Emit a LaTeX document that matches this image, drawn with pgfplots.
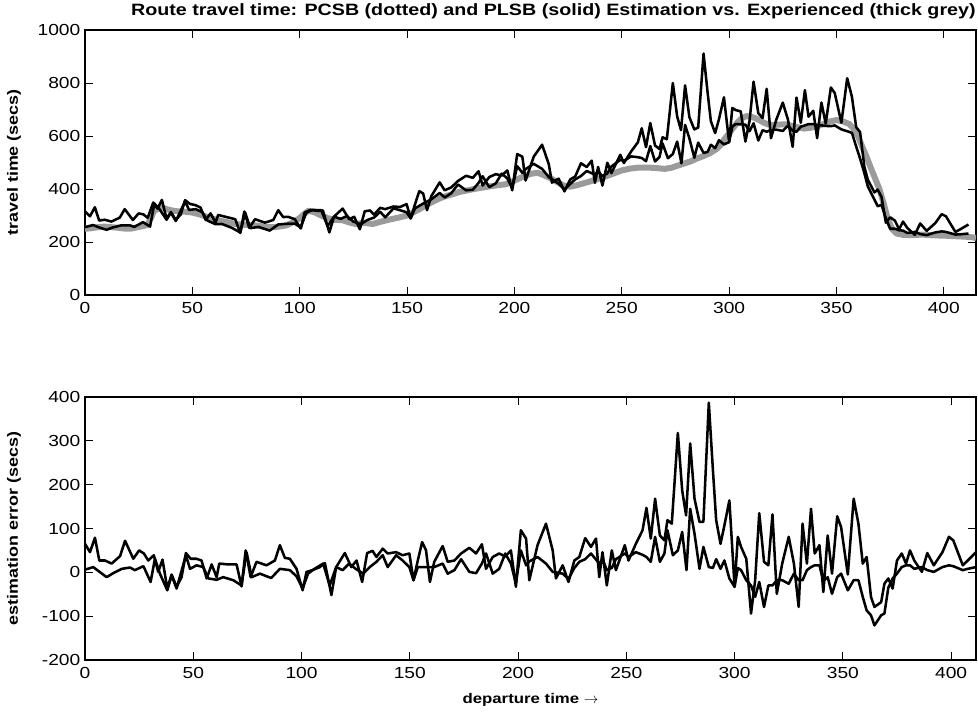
\documentclass[border=0pt]{standalone}
\usepackage{fontspec}
\setmainfont{Liberation Sans}[FakeStretch=1.2]
\usepackage{pgfplots}
\pgfplotsset{compat=1.18}
\definecolor{expgrey}{RGB}{155,155,155}

\pgfplotstableread{
x y
0 250
3 252
6 256
9 258
12 256
15 254
18 251
21 250
24 255
27 260
29 264
31 295
32 315
34 326
36 330
38 324
41 318
44 315
47 314
50 311
53 305
56 297
59 289
62 282
65 277
68 271
71 267
74 265
77 264
80 262
84 257
88 256
91 259
94 263
97 275
100 290
102 305
104 318
107 312
110 300
113 290
116 284
120 282
123 274
126 268
130 272
134 268
138 277
142 285
146 292
150 300
153 312
156 325
159 340
162 352
165 364
168 373
171 380
174 388
177 393
180 398
184 404
188 409
192 414
196 418
199 428
202 439
205 450
208 458
211 461
214 451
217 440
220 426
223 413
226 409
229 414
232 421
235 428
238 436
241 443
244 452
247 461
250 470
254 477
258 481
262 481
266 479
270 476
273 480
276 488
279 496
282 504
285 515
288 524
291 535
294 550
296 565
298 590
300 610
302 632
304 652
306 667
308 675
310 673
312 668
314 660
316 651
318 644
320 641
323 643
326 644
329 639
332 633
335 628
338 631
341 637
344 645
347 655
350 660
353 655
356 645
358 628
360 600
362 560
364 522
366 480
368 440
370 400
372 345
374 285
376 248
378 232
381 227
385 226
390 228
395 225
400 224
405 222
410 220
413 218
415 215
}\experienced

\pgfplotstableread{
x y
0 315
2.3 297
4.6 331
6.6 281
9.2 284
12.3 277
16.2 292
18.5 324
22.3 283
25 308
27.2 304
29.2 291
31.8 349
33.8 326
35.8 359
38 288
40 313
42.3 283
44.6 304
46.6 358
48.8 344
51.5 339
53.8 330
56.2 283
58.5 308
60.8 273
62 302
66 294
70 286
72.3 234
74.2 315
76.5 253
79.2 286
83.8 273
87.7 283
90 320
92.3 294
94.6 295
97.7 286
100.5 251
102.3 311
105 321
108.5 317
110.8 319
113.8 236
116 296
120 326
123 286
125.4 295
128 248
130.3 316
132.8 319
134.6 303
137.5 329
139.8 324
143.7 334
146.7 332
149.8 343
151.7 289
153.7 342
155.7 392
157.5 383
159.3 320
161.3 373
165.2 425
167.5 395
170.6 406
173.7 430
177.5 450
180.6 442
183.3 467
185.2 413
188.3 445
191.3 456
194.1 451
196.7 470
199 395
201.3 532
203.7 522
205.2 432
209 522
212.9 567
216 494
217.5 424
220.6 439
223.3 391
226 436
228.3 447
231 497
233.7 483
236 507
237.5 423
239 483
241 413
243.3 499
245.2 460
249.3 529
251 498
254.4 542
257.5 576
259.3 629
261.3 558
263.3 649
265.5 564
267.6 551
269 595
271 588
273.8 800
275.8 674
277.6 622
279.5 791
281.5 671
283.8 625
285.6 632
288.1 911
290 763
291.5 656
293.5 611
295.3 664
297.6 746
300 577
301.5 706
303 698
305.4 693
307.6 579
309.5 656
311.4 805
313.6 686
315.6 668
317.5 778
319.5 592
322 662
325 726
327.4 662
329.6 559
331.4 745
333.4 650
335.3 773
337 673
339.2 695
341 592
343 726
345 647
347.4 783
349.2 762
352.3 650
355 818
357.2 748
359.2 633
361 615
363 484
364.6 435
367.7 387
369.2 398
371 370
373 273
375 293
377.2 281
379.2 248
381 277
383 253
386.5 227
389 270
392 242
396 271
399 305
401 297
405.4 238
407.7 248
411.5 266
}\pcsbtop

\pgfplotstableread{
x y
0 256
3.8 264
6.2 256
10 246
13 255
17 263
20.8 263
23 257
27 275
30.3 258
32.3 345
34.6 325
38 284
40 311
42.3 279
46.6 353
48.5 321
51.5 324
54.6 313
57 281
60.8 267
63.8 268
68.5 253
72.3 236
74.6 311
77 252
80.8 257
86 243
90 266
94.6 269
97.7 269
100.5 255
103 310
106 321
110 320
113 260
116 296
119 287
122 298
125 277
128.5 267
131.5 283
134.6 292
137.5 314
139.8 293
143.7 327
146.7 320
149.8 312
151.7 289
153.7 327
157.5 345
161.3 361
165.2 385
167.5 368
170.6 384
173.7 417
177.5 395
180.6 397
183.3 423
185.2 448
188.3 407
191.3 421
194.1 458
196.7 440
199 403
201.3 486
203.7 461
205.2 475
209 495
212.9 476
216 445
220.6 420
223.3 398
226 419
228.3 436
231 449
233.7 468
237.5 454
239 467
241 448
243.3 459
245.2 485
249.3 510
251 506
254.4 523
257.5 520
259.3 517
261.3 505
263.3 562
265.5 504
267.6 521
269 572
271.5 516
273.8 532
275.8 579
277.8 497
279.5 642
281.5 591
283.8 518
285.6 575
288.1 536
290 540
291.5 567
293.5 554
295.3 584
297.6 568
300 577
301.5 635
303 645
305.4 644
307.6 643
309.5 618
311.4 648
313.6 583
315.6 622
317.5 616
319.5 623
322 624
325 619
327.4 639
329.6 620
331.4 616
333.4 635
335.3 640
337 645
339.2 645
341 641
343 640
345 638
347.4 637
349.2 640
352.3 625
355 618
357.2 612
359.2 560
361 515
363 460
364.6 410
367.7 360
369.2 335
371 340
373 290
375 250
377.2 250
379.2 244
381 243
383 234
386.5 238
389 230
392 226
396 236
399 240
401 238
405.4 228
407.7 229
411.5 232
}\plsbtop

\pgfplotstableread{
x y
0 65
2.3 46
4.6 79
6.6 27
9.2 27
12.3 20
16.2 37
18.5 72
22.3 31
25 50
27.2 43
29.2 27
31.8 39
33.8 1
35.8 29
38 -37
40 -5
42.3 -33
44.6 -11
46.6 44
48.8 31
51.5 31
53.8 27
56.2 -14
58.5 18
60.8 -11
62 20
66 18
70 18
72.3 -32
74.2 50
76.5 -11
79.2 24
83.8 16
87.7 27
90 62
92.3 33
94.6 31
97.7 8
100.5 -41
102.3 1
105 5
108.5 12
110.8 21
113.8 -52
116 12
120 44
123 12
125.4 27
128 -22
130.3 44
132.8 49
134.6 35
137.5 54
139.8 43
143.7 46
146.7 39
149.8 43
151.7 -18
153.7 27
155.7 69
157.5 50
159.3 -22
161.3 24
165.2 60
167.5 24
170.6 27
173.7 43
177.5 56
180.6 43
183.3 64
185.2 8
188.3 35
191.3 43
194.1 36
196.7 50
199 -33
201.3 96
203.7 77
205.2 -18
209 62
212.9 111
216 50
217.5 -14
220.6 16
223.3 -22
226 27
228.3 35
231 78
233.7 58
236 77
237.5 -11
239 46
241 -30
243.3 50
245.2 5
249.3 62
251 27
254.4 65
257.5 96
259.3 147
261.3 77
263.3 168
265.5 84
267.6 73
269 119
271 111
273.8 318
275.8 187
277.6 130
279.5 294
281.5 168
283.8 115
285.6 115
288.1 387
290 233
291.5 119
293.5 65
295.3 107
297.6 164
300 -33
301.5 81
303 58
305.4 31
307.6 -94
309.5 -18
311.4 135
313.6 24
315.6 16
317.5 132
319.5 -49
322 20
325 81
327.4 20
329.6 -79
331.4 111
333.4 20
335.3 145
337 43
339.2 62
341 -45
343 84
345 -3
347.4 128
349.2 103
352.3 -5
355 168
357.2 111
359.2 20
361 35
363 -56
364.6 -79
367.7 -68
369.2 -26
371 -14
373 -37
375 27
377.2 43
379.2 20
381 50
383 27
386.5 1
389 44
392 16
396 46
399 81
401 73
405.4 16
407.7 27
411.5 46
}\pcsberr

\pgfplotstableread{
x y
0 6
3.8 12
6.2 3
10 -11
13 -2
17 8
20.8 11
23 5
27 14
30.3 -22
32.3 31
34.6 -3
38 -41
40 -7
42.3 -37
46.6 39
48.5 8
51.5 16
54.6 12
57 -14
60.8 -17
63.8 -11
68.5 -18
72.3 -30
74.6 46
77 -11
80.8 -3
86 -13
90 8
94.6 5
97.7 -9
100.5 -37
103 -3
106 8
110 20
113 -30
116 12
119 5
122 20
125 8
128.5 -3
131.5 12
134.6 24
137.5 39
139.8 12
143.7 39
146.7 27
149.8 12
151.7 -18
153.7 12
157.5 12
161.3 12
165.2 20
167.5 -3
170.6 5
173.7 30
177.5 1
180.6 -2
183.3 20
185.2 43
188.3 -3
191.3 8
194.1 43
196.7 20
199 -25
201.3 50
203.7 16
205.2 25
209 35
212.9 20
216 1
220.6 -3
223.3 -15
226 10
228.3 24
231 30
233.7 43
237.5 20
239 30
241 5
243.3 10
245.2 30
249.3 43
251 35
254.4 46
257.5 40
259.3 35
261.3 24
263.3 81
265.5 24
267.6 43
269 96
271.5 39
273.8 50
275.8 92
277.8 5
279.5 145
281.5 88
283.8 8
285.6 58
288.1 12
290 10
291.5 30
293.5 8
295.3 27
297.6 -14
300 -33
301.5 10
303 5
305.4 -18
307.6 -30
309.5 -56
311.4 -22
313.6 -79
315.6 -30
317.5 -30
319.5 -18
322 -18
325 -26
327.4 -3
329.6 -18
331.4 -18
333.4 5
335.3 12
337 16
339.2 16
341 -20
343 -11
345 -49
347.4 -11
349.2 -3
352.3 -41
355 -18
357.2 -18
359.2 -56
361 -87
363 -98
364.6 -121
367.7 -98
369.2 -94
371 -35
373 -14
375 -3
377.2 12
379.2 16
381 16
383 8
386.5 12
389 5
392 1
396 12
399 16
401 14
405.4 5
407.7 8
411.5 12
}\plsberr

\pgfplotsset{
  matlab/.style={
    scale only axis,
    width=668.25pt,
    anchor=south west,
    xmin=0,
    xtick={0,50,...,400},
    tick align=inside,
    tick pos=both,
    major tick length=6pt,
    axis line style={line width=0.9pt},
    every tick/.style={black,line width=0.7pt},
    ticklabel style={font=\fontsize{12}{14}\selectfont},
    /pgf/number format/assume math mode=true,
    /pgf/number format/set thousands separator={},
    scaled ticks=false,
    xticklabel style={yshift=-2pt},
    label style={font=\bfseries\fontsize{11.2}{13}\selectfont},
    ylabel style={at={(axis description cs:-0.0797,0.5)},anchor=center},
    clip=true,
  },
}

\begin{document}
\begin{tikzpicture}
\useasboundingbox (0,0) rectangle (733.5pt,534.75pt);

\begin{axis}[matlab,
  at={(63.75pt,313.5pt)},
  height=198.75pt,
  xmax=415, ymin=0, ymax=1000,
  ytick={0,200,...,1000},
  ylabel={travel time (secs)},
]
\addplot[expgrey, line width=4.5pt, line join=round] table {\experienced};
\addplot[black, line width=1.9pt, line join=round] table {\pcsbtop};
\addplot[black, line width=1.9pt, line join=round] table {\plsbtop};
\end{axis}

\begin{axis}[matlab,
  at={(63.75pt,39.75pt)},
  height=197.25pt,
  xmax=411.5, ymin=-200, ymax=400,
  ytick={-200,-100,...,400},
  ylabel={estimation error (secs)},
  xlabel={departure time $\rightarrow$},
  xlabel style={at={(axis description cs:0.5,-0.152)},anchor=center,
    font=\bfseries\fontsize{10.5}{12}\selectfont},
]
\addplot[black, line width=1.9pt, line join=round] table {\pcsberr};
\addplot[black, line width=1.9pt, line join=round] table {\plsberr};
\end{axis}

\node[font=\bfseries\fontsize{12.3}{14}\selectfont] at (415pt,526.5pt)
  {Route travel time: PCSB (dotted) and PLSB (solid) Estimation vs. Experienced (thick grey)};
\end{tikzpicture}
\end{document}
